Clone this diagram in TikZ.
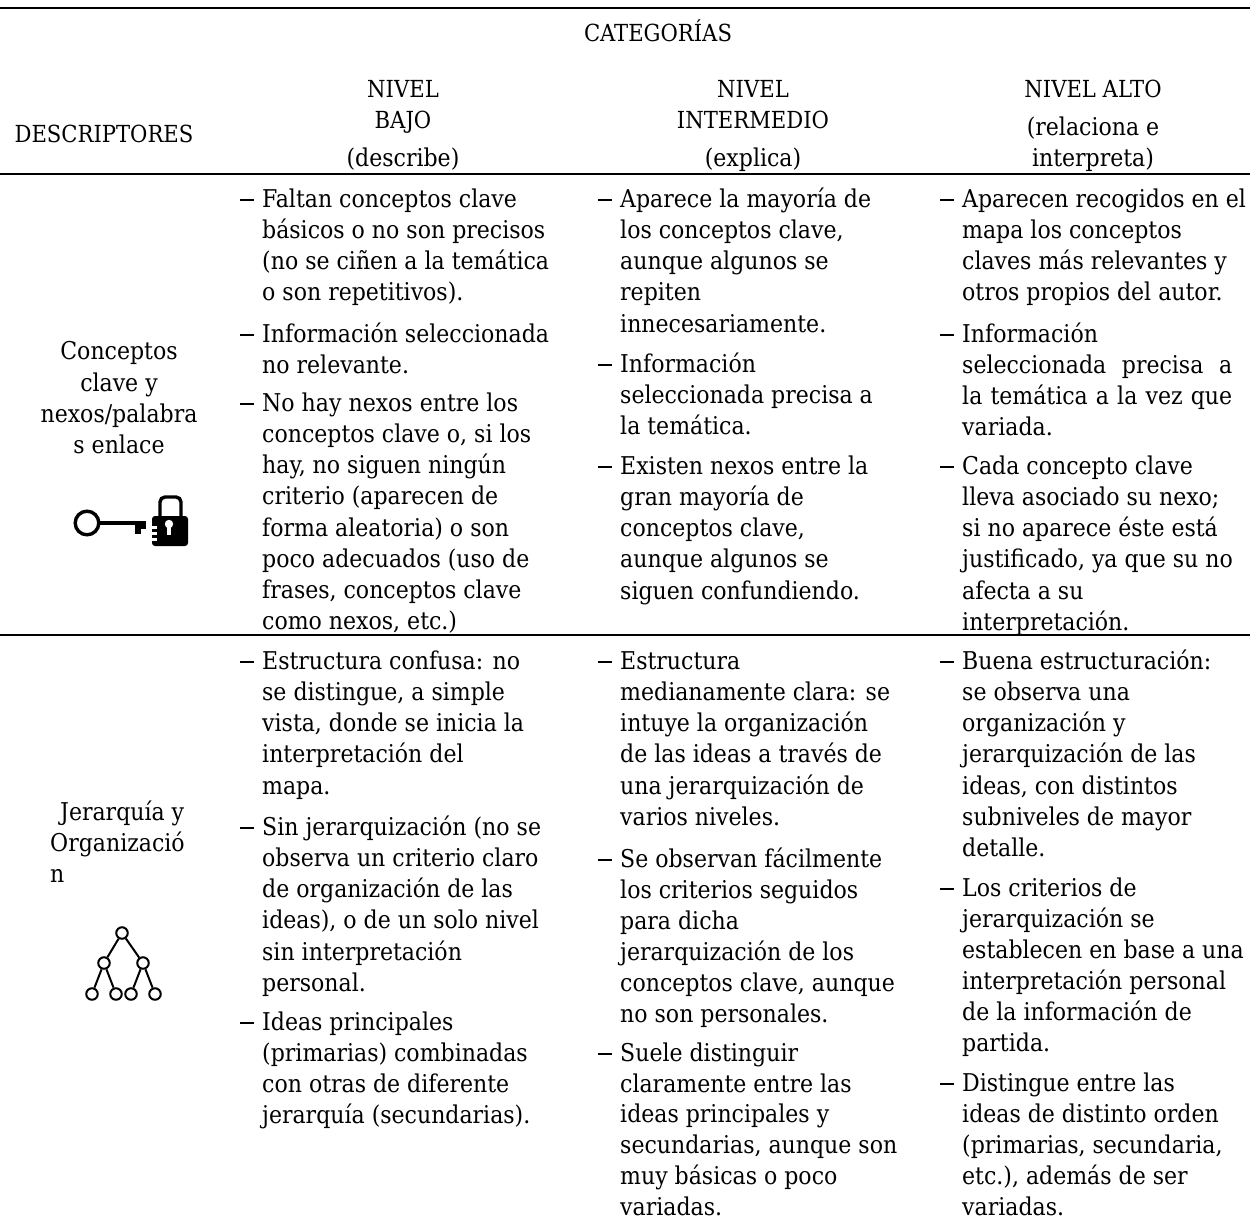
\documentclass[tikz,border=0pt]{standalone}
\usepackage{fontspec}
\setmainfont{DejaVu Serif Condensed}
\usetikzlibrary{calc}
\newcommand\bul[4]{%
  \node[bullettext] (#1) at ({#2+22},{#3-15}) {\rule{0pt}{23pt}#4};
  \node[bullettext] (#1d) at (#2,{#3-15}) {\rule{0pt}{23pt}\rule[6.5pt]{14pt}{1.4pt}};
}
\newcommand\cell[3]{\node[cellfont,anchor=base] (#1) at ($#2+(0,8)$) {#3};}
\newcommand\capsize{\fontsize{23.5}{31}\selectfont}
\newcommand\pitch{31.2}
\begin{document}
\begin{tikzpicture}[x=1pt,y=-1pt,
  cellfont/.style={inner sep=0pt,font=\fontsize{24.5}{\pitch}\selectfont,text=black},
  bullettext/.style={cellfont,anchor=north west,align=left},
  rulethick/.style={line width=2.2pt,black},
  icon/.style={black},
  treenode/.style={circle,draw=black,line width=2pt,fill=white,minimum size=11.5pt,inner sep=0pt}]
\useasboundingbox (0,0) rectangle (1250,1219);
\fill[white] (0,0) rectangle (1250,1219);
\draw[rulethick,line width=2.8pt] (0,8) -- (1250,8);
\draw[rulethick] (0,174) -- (1250,174);
\draw[rulethick] (0,635) -- (1250,635);
% header
\cell{cat}{(658,33)}{\capsize CATEGORÍAS}
\cell{desc}{(104,134)}{\capsize DESCRIPTORES}
\cell{nb1}{(403,89)}{\capsize NIVEL}
\cell{nb2}{(403,120)}{\capsize BAJO}
\cell{nb3}{(403,158)}{(describe)}
\cell{ni1}{(753,89)}{\capsize NIVEL}
\cell{ni2}{(753,120)}{\capsize INTERMEDIO}
\cell{ni3}{(753,158)}{(explica)}
\cell{na1}{(1093,89)}{\capsize NIVEL ALTO}
\cell{na2}{(1093,127)}{(relaciona e}
\cell{na3}{(1093,158)}{interpreta)}
% left column
\cell{c1}{(119,351)}{Conceptos}
\cell{c2}{(119,383)}{clave y}
\cell{c3}{(119,414)}{nexos/palabra}
\cell{c4}{(119,445)}{s enlace}
\node[bullettext] (j1) at (60,797) {\rule{0pt}{23pt}Jerarquía y};
\node[bullettext] (j2) at (50,828) {\rule{0pt}{23pt}Organizació};
\node[bullettext] (j3) at (50,859) {\rule{0pt}{23pt}n};
% row 1
\bul{a1}{240}{199}{Faltan conceptos clave\\básicos o no son precisos\\(no se ciñen a la temática\\o son repetitivos).}
\bul{a2}{240}{334}{Información seleccionada\\no relevante.}
\bul{a3}{240}{403}{No hay nexos entre los\\conceptos clave o, si los\\hay, no siguen ningún\\criterio (aparecen de\\forma aleatoria) o son\\poco adecuados (uso de\\frases, conceptos clave\\como nexos, etc.)}
\bul{b1}{598}{199}{Aparece la mayoría de\\los conceptos clave,\\aunque algunos se\\repiten\\innecesariamente.}
\bul{b2}{598}{364}{Información\\seleccionada precisa a\\la temática.}
\bul{b3}{598}{466}{Existen nexos entre la\\gran mayoría de\\conceptos clave,\\aunque algunos se\\siguen confundiendo.}
\bul{d1}{940}{199}{Aparecen recogidos en el\\mapa los conceptos\\claves más relevantes y\\otros propios del autor.}
\bul{d2}{940}{334}{Información\\\hbox to 270pt{seleccionada\hfill precisa\hfill a}\\\hbox to 270pt{la temática a la vez que}\\variada.}
\bul{d3}{940}{466}{Cada concepto clave\\lleva asociado su nexo;\\si no aparece éste está\\justificado, ya que su no\\afecta a su\\interpretación.}
% row 2
\bul{e1}{240}{661}{Estructura confusa: no\\se distingue, a simple\\vista, donde se inicia la\\interpretación del\\mapa.}
\bul{e2}{240}{827}{Sin jerarquización (no se\\observa un criterio claro\\de organización de las\\ideas), o de un solo nivel\\sin interpretación\\personal.}
\bul{e3}{240}{1022}{Ideas principales\\(primarias) combinadas\\con otras de diferente\\jerarquía (secundarias).}
\bul{f1}{598}{661}{Estructura\\medianamente clara: se\\intuye la organización\\de las ideas a través de\\una jerarquización de\\varios niveles.}
\bul{g1}{940}{661}{Buena estructuración:\\se observa una\\organización y\\jerarquización de las\\ideas, con distintos\\subniveles de mayor\\detalle.}
\renewcommand\pitch{31}
\bul{f2}{598}{859}{Se observan fácilmente\\los criterios seguidos\\para dicha\\jerarquización de los\\conceptos clave, aunque\\no son personales.}
\renewcommand\pitch{30.8}
\bul{f3}{598}{1053}{Suele distinguir\\claramente entre las\\ideas principales y\\secundarias, aunque son\\muy básicas o poco\\variadas.}
\renewcommand\pitch{31}
\bul{g2}{940}{888}{Los criterios de\\jerarquización se\\establecen en base a una\\interpretación personal\\de la información de\\partida.}
\bul{g3}{940}{1083}{Distingue entre las\\ideas de distinto orden\\(primarias, secundaria,\\etc.), además de ser\\variadas.}
% key
\draw[icon,line width=3.4pt] (87,523) circle (11.8);
\fill[icon] (99,520.5) rectangle (146,524.5);
\fill[icon] (135,524) rectangle (146,529);
\fill[icon] (135,529) rectangle (141,534);
% lock
\draw[icon,line width=3.4pt,rounded corners=5pt] (160,520) -- (160,497) -- (181,497) -- (181,520);
\fill[icon,rounded corners=3pt] (152,516) rectangle (188,546);
\fill[white] (169,524) circle (4.2);
\fill[white] (167,524) rectangle (171,535);
\fill[white] (151,526) rectangle (157,528.5);
\fill[white] (151,532) rectangle (157,534.5);
\fill[white] (151,538) rectangle (157,540.5);
% tree
\node[treenode] (t0) at (122,933) {};
\node[treenode] (t1) at (104,963) {};
\node[treenode] (t2) at (143,963) {};
\node[treenode] (t3) at (92,994) {};
\node[treenode] (t4) at (116,994) {};
\node[treenode] (t5) at (131,994) {};
\node[treenode] (t6) at (155,994) {};
\draw[icon,line width=2pt] (t0) -- (t1) (t0) -- (t2) (t1) -- (t3) (t1) -- (t4) (t2) -- (t5) (t2) -- (t6);
\end{tikzpicture}
\end{document}
